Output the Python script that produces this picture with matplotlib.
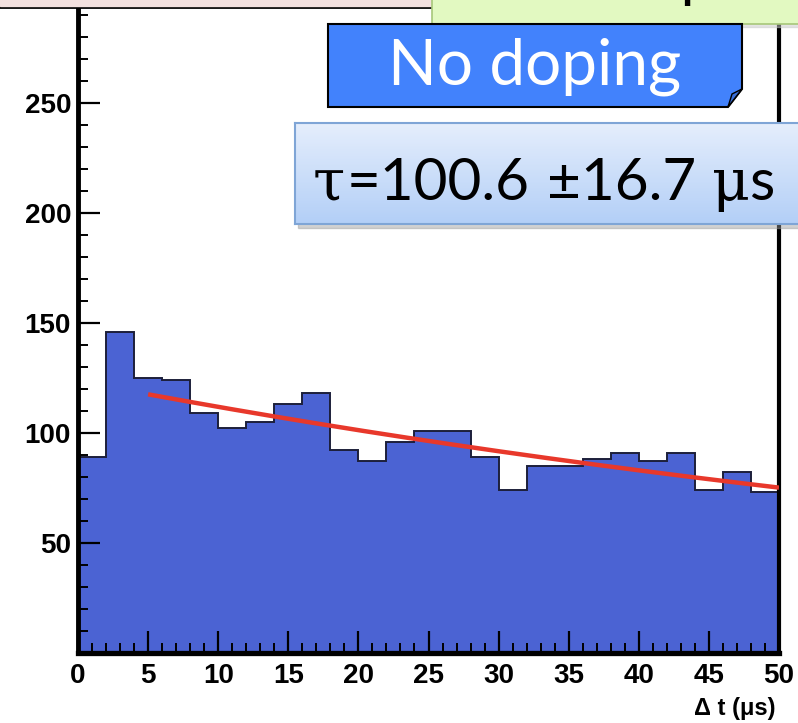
import numpy as np
import matplotlib
matplotlib.use("Agg")
import matplotlib.pyplot as plt
from matplotlib.patches import Rectangle, Polygon
from matplotlib.colors import LinearSegmentedColormap

# histogram of delta t, 2 us bins from 0 to 50
bin_edges = np.arange(0, 51, 2)
counts = [89, 146, 125, 124, 109, 102, 105, 113, 118, 92, 87, 96, 101,
          101, 89, 74, 85, 85, 88, 91, 87, 91, 74, 82, 73]

# exponential fit shown in red
fit_tau = 100.6
fit_err = 16.7
fit_norm = 123.5
fit_range = (5, 50)

W, H = 798, 723


def fx(px):
    return px / W


def fy(py):
    return 1 - py / H


def pts(xy):
    return [(fx(x), fy(y)) for x, y in xy]


fig = plt.figure(figsize=(W / 100, H / 100), dpi=100)
fig.set_facecolor('white')

ax = fig.add_axes([fx(78), fy(653), fx(779) - fx(78), fy(8) - fy(653)])

# Histogram
ax.stairs(counts, bin_edges, fill=True, color='#4b63d3', zorder=1)
ax.stairs(counts, bin_edges, color='#1c1f3a', lw=1.4, zorder=2)

# Fit
t = np.linspace(fit_range[0], fit_range[1], 200)
ax.plot(t, fit_norm * np.exp(-t / fit_tau), color='#e8382b', lw=3.2, zorder=3,
        solid_capstyle='butt')

ax.set_xlim(0, 50)
ax.set_ylim(0, 293)
ax.set_xticks(np.arange(0, 51, 5))
ax.set_xticks(np.arange(0, 51, 1), minor=True)
ax.set_yticks(np.arange(50, 251, 50))
ax.set_yticks(np.arange(10, 291, 10), minor=True)

ax.tick_params(which='both', direction='in', color='black', top=False, right=False)
ax.tick_params(which='major', length=16, width=1.6)
ax.tick_params(which='minor', length=7, width=1.4)
ax.tick_params(axis='y', which='major', pad=5)
ax.tick_params(axis='x', which='major', pad=7)
for lab in ax.get_xticklabels() + ax.get_yticklabels():
    lab.set_fontfamily('Liberation Sans')
    lab.set_fontweight('bold')
    lab.set_fontsize(20)

ax.spines['top'].set_visible(False)
ax.spines['left'].set_linewidth(3.5)
ax.spines['bottom'].set_linewidth(3.8)
ax.spines['right'].set_linewidth(3.0)
ax.set_facecolor('white')

fig.text(fx(776), fy(708), 'Δ t (μs)', ha='right', va='center',
         family='Liberation Sans', fontweight='bold', fontsize=17)

# Slide decorations on top
fig.patches.append(Rectangle((fx(0), fy(6)), fx(432), fy(0) - fy(6),
                             transform=fig.transFigure, color='#f3e1df', zorder=5))
fig.lines.append(plt.Line2D([fx(0), fx(432)], [fy(7), fy(7)], transform=fig.transFigure,
                            color='black', lw=2, zorder=5))

# green box, cut off at the top
fig.patches.append(Rectangle((fx(435), fy(27)), fx(800) - fx(435), fy(0) - fy(27),
                             transform=fig.transFigure, color='#c9c9c9', alpha=0.5, zorder=5))
green = Rectangle((fx(432), fy(24)), fx(800) - fx(432), fy(-5) - fy(24),
                  transform=fig.transFigure, facecolor='#e2f9c1', edgecolor='#a7c77a',
                  lw=1.2, zorder=6)
fig.patches.append(green)
# mostly above the top edge, only the lowest strokes show
fig.text(fx(455), fy(-4), '2 m comparison', ha='left', va='baseline',
         family=['Lato', 'DejaVu Sans'], fontsize=43, color='black', zorder=7)

# "No doping" box with folded corner
nd = Polygon(pts([(328, 24), (742, 24), (742, 89), (728, 107), (328, 107)]),
             closed=True, transform=fig.transFigure, facecolor='#4282fc',
             edgecolor='black', lw=1.5, zorder=6)
fig.patches.append(nd)
fold = Polygon(pts([(742, 89), (732, 94), (728, 107)]), closed=True,
               transform=fig.transFigure, facecolor='#3a6fd8', edgecolor='black',
               lw=1.0, zorder=7)
fig.patches.append(fold)
fig.text(fx(535), fy(85), 'No doping', ha='center', va='baseline',
         family=['Lato', 'DejaVu Sans'], fontsize=46, color='white', zorder=8)

# tau box: shadow + gradient fill
fig.patches.append(Rectangle((fx(298), fy(228)), fx(805) - fx(298), fy(127) - fy(228),
                             transform=fig.transFigure, color='#9a9a9a', alpha=0.45,
                             zorder=6))
bax = fig.add_axes([fx(295), fy(224), fx(800) - fx(295), fy(123) - fy(224)], zorder=7)
grad = LinearSegmentedColormap.from_list('g', ['#e5eefc', '#b3cff7'])
bax.imshow(np.linspace(0, 1, 100).reshape(-1, 1), cmap=grad, aspect='auto',
           extent=[0, 1, 0, 1], origin='upper')
bax.set_xticks([])
bax.set_yticks([])
for s in bax.spines.values():
    s.set_color('#7fa5d6')
    s.set_linewidth(1.5)

# greek letters in a serif face, as on the slide
serif = ['DejaVu Serif']
sans = ['Lato', 'DejaVu Sans']
tau_parts = [('τ', serif, 313), (f'={fit_tau}', sans, 347), (f'±{fit_err}', sans, 547),
             ('μ', serif, 712), ('s', sans, 749)]
for s, fam, xp in tau_parts:
    fig.text(fx(xp), fy(200), s, ha='left', va='baseline', family=fam,
             fontsize=42, color='black', zorder=9)

fig.savefig('out.png', dpi=100)
